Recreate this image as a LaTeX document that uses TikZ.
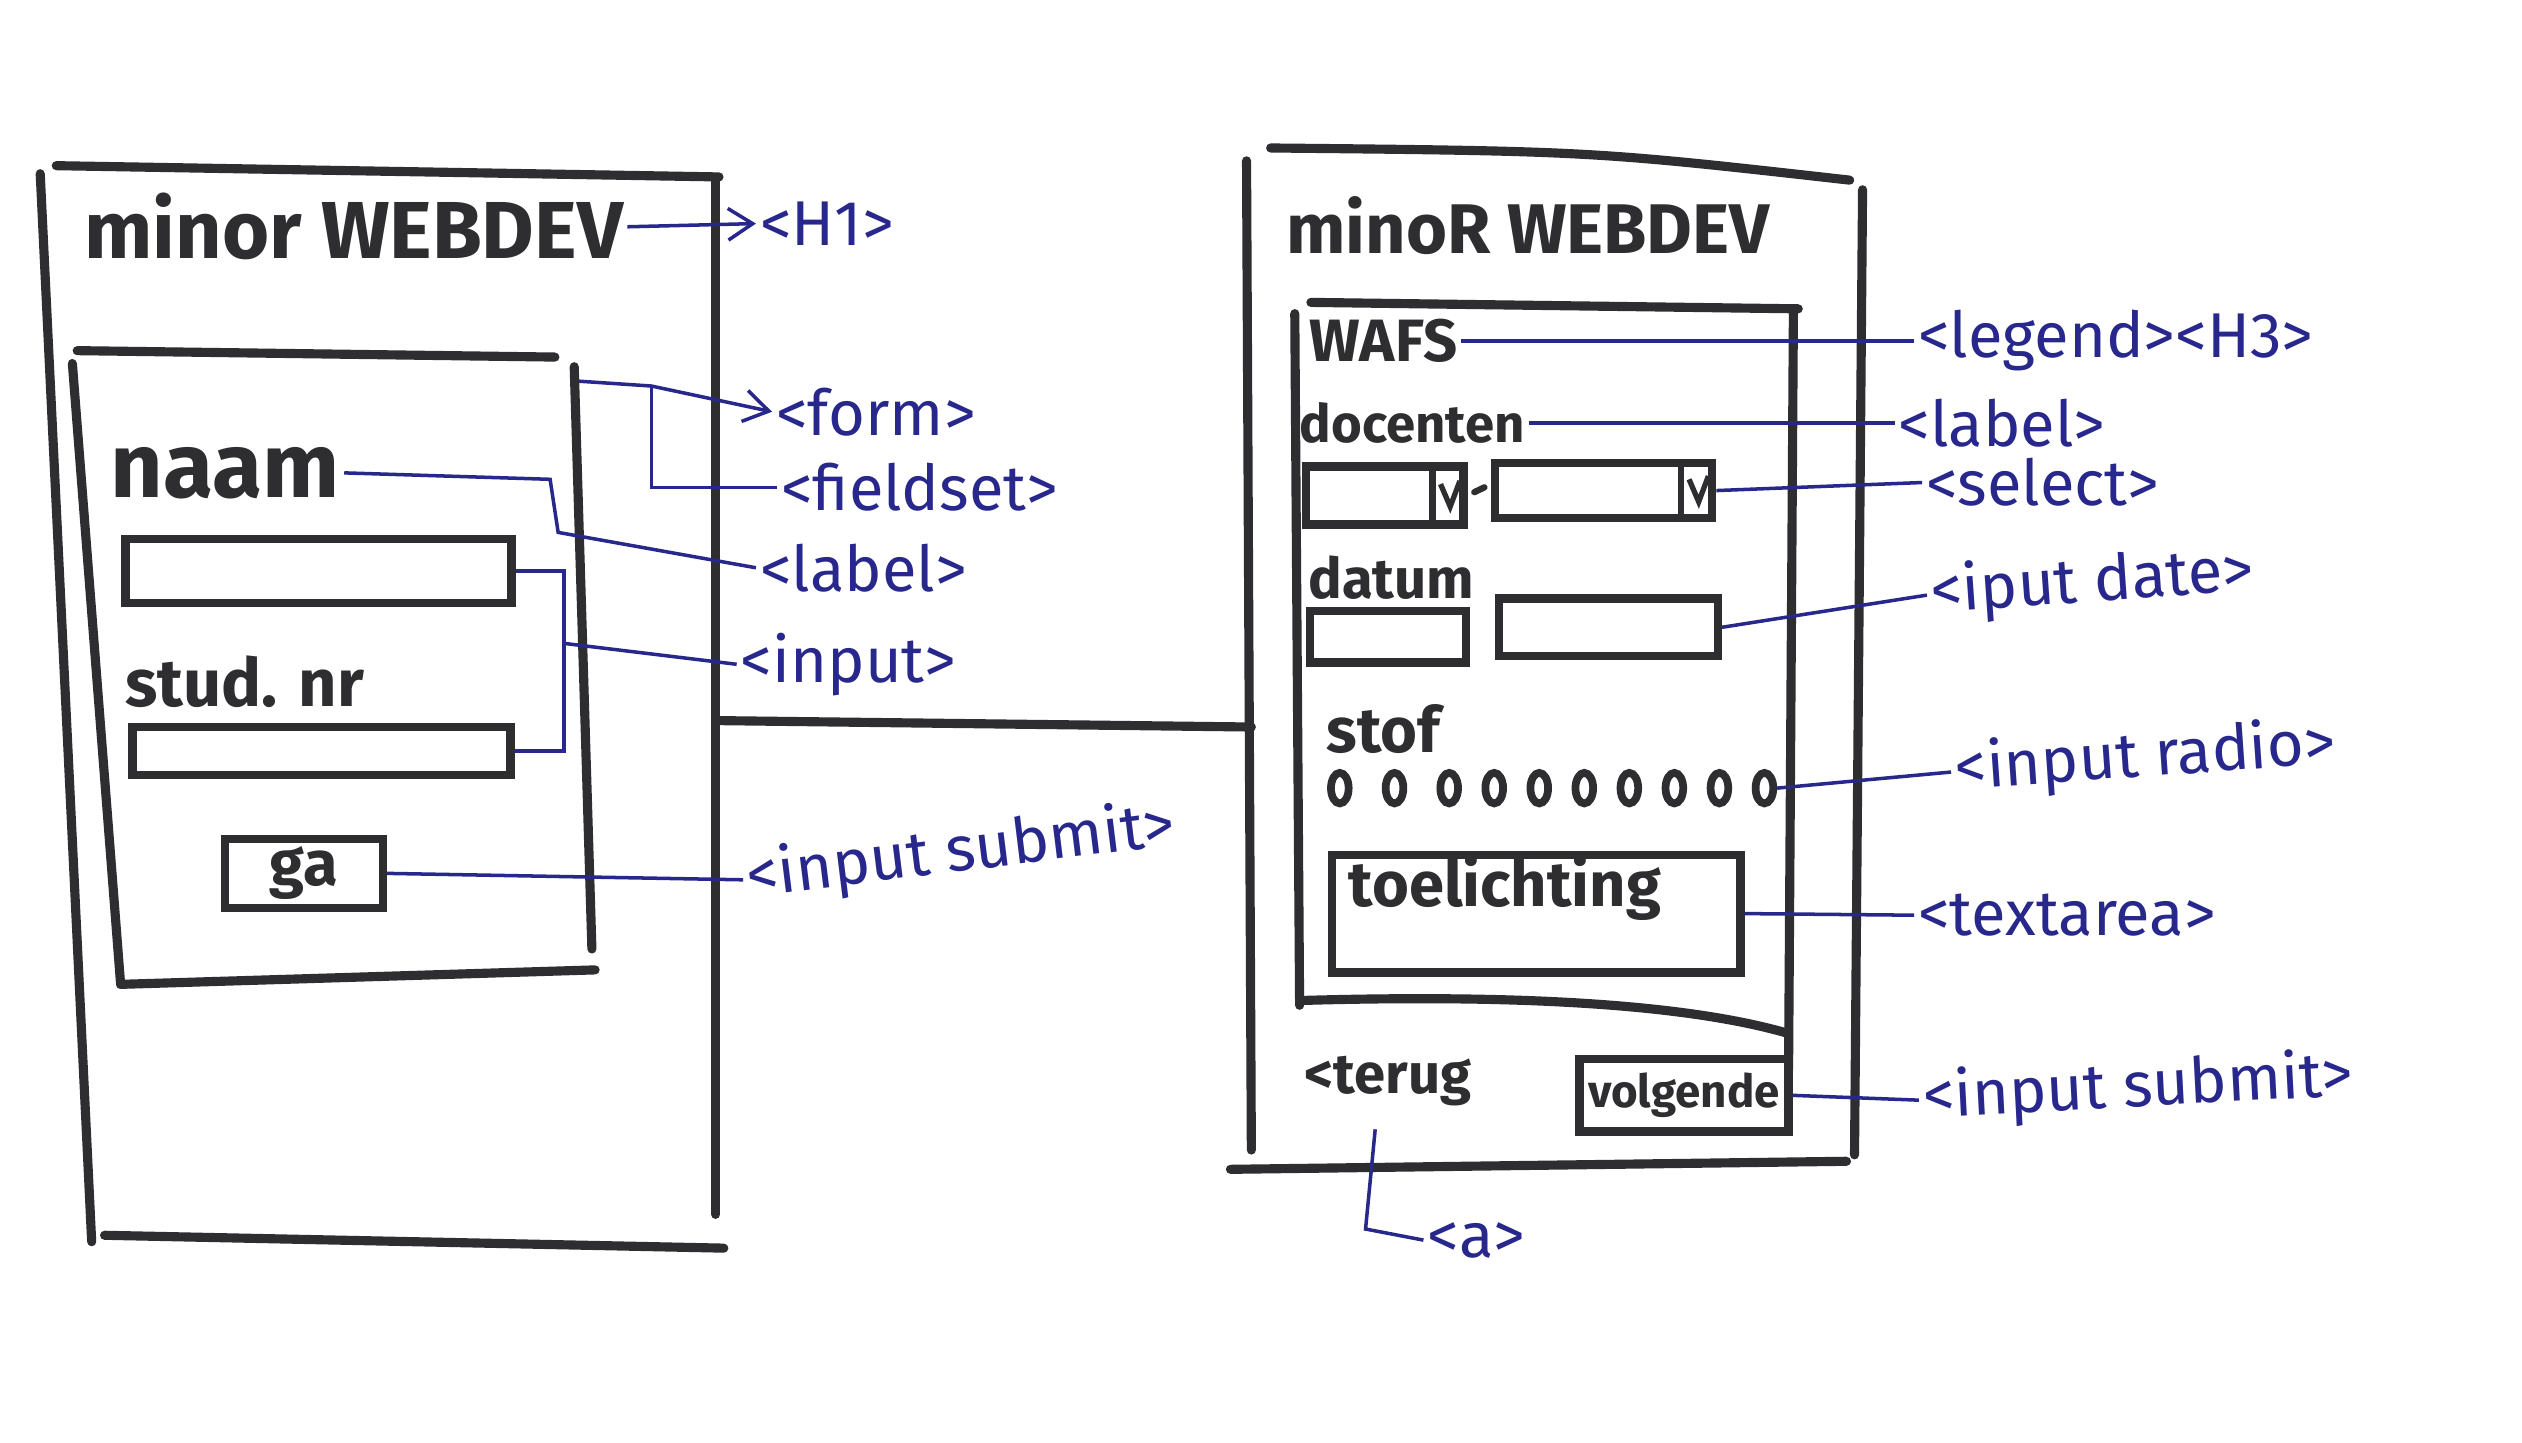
\documentclass[tikz,border=0pt]{standalone}
\usepackage{fontspec}
\setmainfont{Fira Sans}
\usetikzlibrary{positioning, arrows.meta, calc, shapes.geometric}

\definecolor{marker}{RGB}{46,46,48}
\definecolor{pen}{RGB}{40,40,140}

\newlength\px
\setlength\px{0.016084cm}

\begin{document}
\begin{tikzpicture}[x=0.016084cm, y=-0.016084cm]
		\tikzstyle{Frame} = [
			draw=marker,
			line width=2.6pt,
			line cap=round,
			line join=round
		]
		\tikzstyle{Field} = [
			draw=marker,
			line width=2.4pt,
			inner sep=0pt
		]
		\tikzstyle{Radio} = [
			Field,
			ellipse,
			line width=2.2pt,
			minimum width=11\px,
			minimum height=19\px
		]
		\tikzstyle{Tag} = [
			text=pen,
			font=\fontsize{18}{20}\selectfont,
			inner sep=1pt,
			anchor=west
		]
		\tikzstyle{TagLine} = [
			draw=pen,
			line width=1pt
		]
		\tikzset{Ink/.style={text=marker, inner sep=1pt, font=\bfseries\fontsize{#1}{#1}\selectfont}}

		\fill[white] (0,0) rectangle (1568,897);
		\useasboundingbox (0,0) rectangle (1568,897);

		%%%%%%%%%%%%%%%%%%%%%%%%%%===---LEFT SCREEN---===%%%%%%%%%%%%%%%%%%%%%%%%%%
		\draw[Frame] (35,103) -- (447,110);
		\draw[Frame] (25,108) -- (57,772);
		\draw[Frame] (445,112) -- (445,755);
		\draw[Frame] (65,768) -- (450,776);
		% form box
		\draw[Frame] (48,218) -- (345,222);
		\draw[Frame] (45,226) -- (75,612);
		\draw[Frame] (357,228) -- (368,590);
		\draw[Frame] (75,612) -- (370,603);

		\node (titleL) [Ink=23] at (220,141) {minor WEBDEV};
		\node (naam) [Ink=26] at (140,294) {naam};
		\node (inNaam) [Field, minimum width=240\px, minimum height=40\px] at (198,355) {};
		\node (studnr) [Ink=19] at (152,424) {stud. nr};
		\node (inStud) [Field, minimum width=235\px, minimum height=30\px] at (200,467) {};
		\node (btnGa) [Field, Ink=18, minimum width=98\px, minimum height=43\px] at (189,543) {ga};

		% tags
		\node (tagH1) [Tag] at (470,139) {<H1>};
		\node (tagForm) [Tag] at (480,256) {<form>};
		\node (tagFieldset) [Tag] at (483,303) {<fieldset>};
		\node (tagLabelL) [Tag] at (470,353) {<label>};
		\node (tagInput) [Tag] at (458,413) {<input>};
		\node (tagSubmitL) [Tag, rotate=7] at (462,547) {<input submit>};

		\coordinate (formR) at (360,237);
		\coordinate (fsSplit) at (405,240);
		\draw[TagLine, -{Straight Barb[length=7pt, width=9pt]}] (titleL.east) -- (tagH1.west);
		\draw[TagLine, -{Straight Barb[length=7pt, width=9pt]}] (formR) -- (fsSplit) -- (tagForm.west);
		\draw[TagLine] (fsSplit) |- (tagFieldset.west);
		\draw[TagLine] (naam.east) -- ++(128,4) -- ++(5,33) -- (tagLabelL.west);
		\draw[TagLine] (inNaam.east) -- ++(30,0) |- (inStud.east);
		\draw[TagLine] ($(inNaam.east)+(30,45)$) -- (tagInput.west);
		\draw[TagLine] (btnGa.east) -- (tagSubmitL.west);

		%%%%%%%%%%%%%%%%%%%%%%%%%%===---LINK---===%%%%%%%%%%%%%%%%%%%%%%%%%%
		\coordinate (screenL) at (445,448);
		\coordinate (screenR) at (778,452);
		\draw[Frame] (screenL) -- (screenR);

		%%%%%%%%%%%%%%%%%%%%%%%%%%===---RIGHT SCREEN---===%%%%%%%%%%%%%%%%%%%%%%%%%%
		\draw[Frame] (790,92) .. controls (990,94) .. (1150,112);
		\draw[Frame] (775,100) -- (778,715);
		\draw[Frame] (1158,118) -- (1153,718);
		\draw[Frame] (765,727) -- (1148,722);
		% fieldset box
		\draw[Frame] (815,188) -- (1118,192);
		\draw[Frame] (805,195) -- (808,625);
		\draw[Frame] (1115,195) -- (1112,665);
		\draw[Frame] (810,622) .. controls (950,618) and (1050,625) .. (1110,642);

		\node (titleR) [Ink=20] at (950,140) {minoR WEBDEV};
		\node (wafs) [Ink=17] at (860,212) {WAFS};
		\node (docenten) [Ink=15] at (878,263) {docenten};
		\node (selA) [Field, minimum width=98\px, minimum height=36\px] at (861,308) {};
		\node (selB) [Field, minimum width=135\px, minimum height=34\px] at (997,305) {};
		\foreach \s in {selA, selB}{
			\draw[Field, line width=1.8pt] ($(\s.north east)+(-22,0)$) -- ($(\s.south east)+(-22,0)$);
			\draw[Field, line width=1.5pt] ($(\s.east)+(-17,-7)$) -- ($(\s.east)+(-11,7)$) -- ($(\s.east)+(-5,-9)$);
		}
		\draw[Frame, line width=1.8pt] ($(selA.east)+(4,-2)$) -- ($(selB.west)+(-4,-2)$);
		\node (datum) [Ink=16] at (865,359) {datum};
		\node (dateA) [Field, minimum width=97\px, minimum height=32\px] at (863,396) {};
		\node (dateB) [Field, minimum width=136\px, minimum height=36\px] at (1000,390) {};
		\node (stof) [Ink=18] at (860,453) {stof};
		\foreach \x [count=\i] in {833, 867, 901, 929, 957, 985, 1013, 1041, 1069, 1097}
			\node (r\i) [Radio] at (\x,490) {};
		\node (txtArea) [Field, minimum width=254\px, minimum height=73\px] at (955,568) {};
		\node (toelichting) [Ink=18, anchor=west] at (836,552) {toelichting};
		\node (terug) [Ink=16] at (863,672) {<terug};
		\node (btnNext) [Field, Ink=13, minimum width=130\px, minimum height=45\px] at (1047,681) {volgende};

		% tags
		\node (tagLegend) [Tag] at (1190,212) {<legend><H3>};
		\node (tagLabelR) [Tag] at (1178,263) {<label>};
		\node (tagSelect) [Tag] at (1195,300) {<select>};
		\node (tagDate) [Tag, rotate=4] at (1198,370) {<iput date>};
		\node (tagRadio) [Tag, rotate=4] at (1213,480) {<input radio>};
		\node (tagTextarea) [Tag] at (1190,569) {<textarea>};
		\node (tagSubmitR) [Tag, rotate=3] at (1193,684) {<input submit>};
		\node (tagA) [Tag] at (885,771) {<a>};

		\draw[TagLine] (wafs.east) -- (tagLegend.west);
		\draw[TagLine] (docenten.east) -- (tagLabelR.west);
		\draw[TagLine] (selB.east) -- (tagSelect.west);
		\draw[TagLine] (dateB.east) -- (tagDate.west);
		\draw[TagLine] (r10.east) -- (tagRadio.west);
		\draw[TagLine] (txtArea.east) -- (tagTextarea.west);
		\draw[TagLine] (btnNext.east) -- (tagSubmitR.west);
		\draw[TagLine] ($(terug.south)+(-8,12)$) -- ++(-6,62) -- (tagA.west);
	\end{tikzpicture}
\end{document}
